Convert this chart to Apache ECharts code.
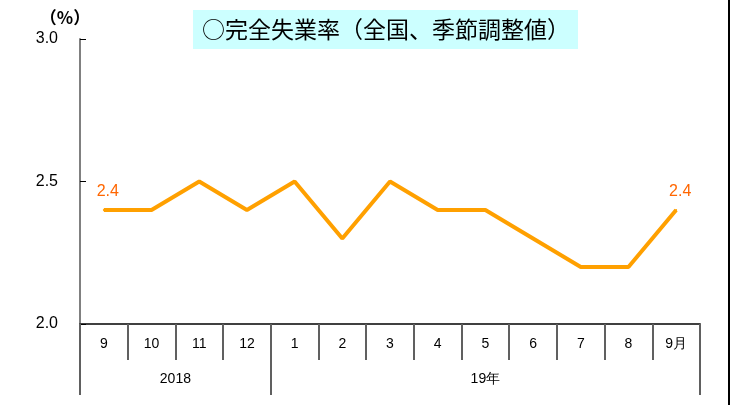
<!DOCTYPE html>
<html>
<head>
<meta charset="utf-8">
<script src="https://cdn.jsdelivr.net/npm/echarts@6/dist/echarts.min.js"></script>
<style>
  html, body { margin: 0; padding: 0; background: #fff; }
  #chart { width: 747px; height: 405px; }
</style>
</head>
<body>
<div id="chart"></div>
<script>
const months = ['9', '10', '11', '12', '1', '2', '3', '4', '5', '6', '7', '8', '9月']
const rates = [2.4, 2.4, 2.5, 2.4, 2.5, 2.3, 2.5, 2.4, 2.4, 2.3, 2.2, 2.2, 2.4]
const yearLabels = ['2018', '19年']
const yearCenters = [2, 8.5]
const yearBounds = [0, 4, 13]

const chart = echarts.init(document.getElementById('chart'))

const font = '"Liberation Sans", Arial, sans-serif'
const jpFont = '"Noto Sans CJK JP", sans-serif'

const option = {
  animation: false,
  title: {
    text: '○完全失業率（全国、季節調整値）',
    left: 193,
    top: 10,
    padding: [8, 8, 8, 9],
    backgroundColor: '#ccffff',
    textStyle: {
      fontFamily: jpFont,
      fontSize: 23,
      fontWeight: 'normal',
      color: '#000'
    }
  },
  grid: {
    left: 80,
    right: 47,
    top: 39,
    bottom: 81
  },
  xAxis: [
    {
      type: 'category',
      data: months,
      boundaryGap: true,
      axisLine: { show: true, lineStyle: { color: '#404040', width: 2 } },
      axisTick: {
        show: true,
        interval: 0,
        length: 36,
        lineStyle: { color: '#606060', width: 2 }
      },
      axisLabel: {
        interval: 0,
        margin: 13,
        fontFamily: font,
        fontSize: 14,
        color: '#000'
      }
    },
    {
      type: 'value',
      position: 'bottom',
      min: 0,
      max: 13,
      axisLine: { show: false },
      splitLine: { show: false },
      axisTick: {
        show: true,
        customValues: yearBounds,
        length: 71,
        lineStyle: { color: '#606060', width: 2 }
      },
      axisLabel: {
        customValues: yearCenters,
        margin: 48,
        fontFamily: font,
        fontSize: 14,
        color: '#000',
        formatter: v => yearLabels[yearCenters.indexOf(v)]
      }
    }
  ],
  yAxis: {
    type: 'value',
    min: 2.0,
    max: 3.0,
    interval: 0.5,
    name: '（%）',
    nameLocation: 'end',
    nameGap: 13,
    nameTextStyle: {
      fontFamily: jpFont,
      fontSize: 17,
      fontWeight: 'bold',
      color: '#000',
      align: 'center',
      padding: [0, 30, 0, 0]
    },
    axisLine: { show: true, lineStyle: { color: '#808080', width: 2 } },
    axisTick: { show: true, inside: true, length: 6, lineStyle: { color: '#000', width: 1 } },
    splitLine: { show: false },
    axisLabel: {
      margin: 22,
      fontFamily: font,
      fontSize: 16,
      color: '#000',
      formatter: v => v.toFixed(1)
    }
  },
  series: [
    {
      type: 'line',
      xAxisIndex: 0,
      data: rates.map((v, i) => ({
        value: v,
        label: { show: i === 0 || i === rates.length - 1 }
      })),
      symbol: 'circle',
      symbolSize: 2,
      showSymbol: true,
      itemStyle: { color: '#ffa000' },
      lineStyle: { color: '#ffa000', width: 4 },
      label: {
        show: false,
        position: 'top',
        distance: 9,
        offset: [4, 0],
        fontFamily: font,
        fontSize: 16,
        color: '#ff6600',
        formatter: p => p.value.toFixed(1)
      }
    }
  ],
  graphic: [
    {
      type: 'line',
      shape: { x1: 729, y1: 0, x2: 729, y2: 405 },
      style: { stroke: '#000', lineWidth: 2 }
    }
  ]
}

chart.setOption(option)
</script>
</body>
</html>
